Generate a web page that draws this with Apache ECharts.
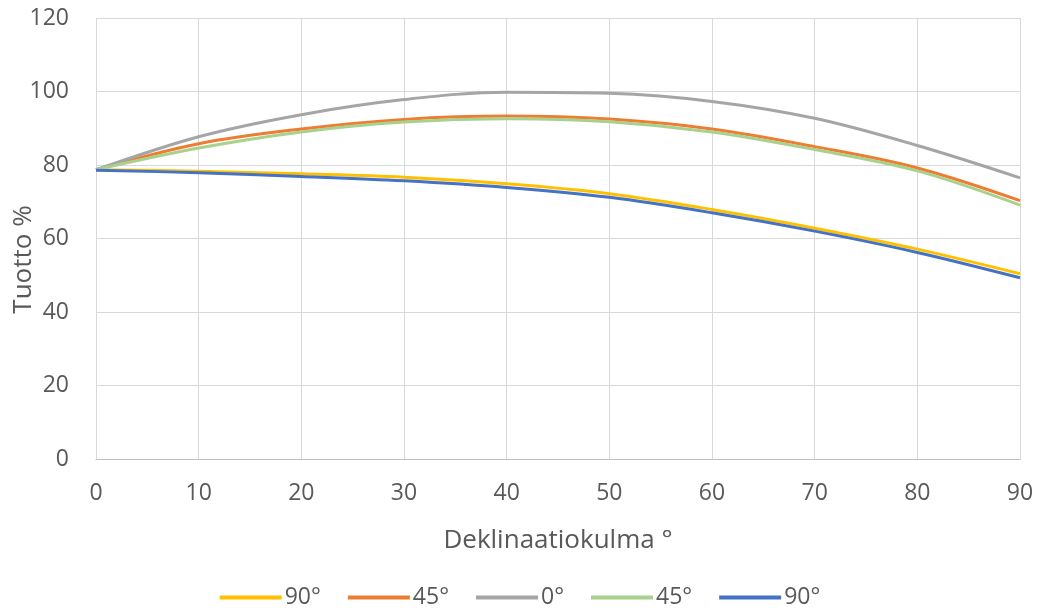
<!DOCTYPE html>
<html>
<head>
<meta charset="utf-8">
<script src="https://cdn.jsdelivr.net/npm/echarts@6/dist/echarts.min.js"></script>
<style>html,body{margin:0;padding:0;background:#fff}#c{width:1040px;height:616px}</style>
</head>
<body>
<div id="c"></div>
<script>
const xValues = [0, 10, 20, 30, 40, 50, 60, 70, 80, 90];
const seriesNames = ['90°', '45°', '0°', '45° ', '90° '];
const yellow90 = [78.7, 78.3, 77.6, 76.7, 74.9, 72.2, 67.9, 62.8, 57.1, 50.4];
const orange45 = [78.7, 85.8, 89.8, 92.4, 93.3, 92.5, 89.8, 85.0, 79.2, 70.3];
const gray0 = [78.7, 87.7, 93.7, 97.8, 99.8, 99.5, 97.3, 92.7, 85.3, 76.5];
const green45 = [78.7, 84.6, 89.0, 91.7, 92.6, 91.8, 89.0, 84.2, 78.4, 69.1];
const blue90 = [78.6, 77.9, 76.9, 75.7, 73.9, 71.2, 67.0, 62.0, 56.2, 49.3];
const colors = ['#FFC000', '#ED7D31', '#A5A5A5', '#A9D18E', '#4472C4'];
const allData = [yellow90, orange45, gray0, green45, blue90];

const font = 'Open Sans';
const chart = echarts.init(document.getElementById('c'), null, {renderer: 'canvas'});
chart.setOption({
  animation: false,
  color: colors,
  textStyle: {fontFamily: font},
  grid: {left: 96, right: 20, top: 18, bottom: 157, containLabel: false, outerBoundsMode: 'none'},
  legend: {
    bottom: 2,
    left: 'center',
    icon: 'rect',
    itemWidth: 62,
    itemHeight: 4,
    itemGap: 27,
    data: seriesNames,
    formatter: n => n.trim(),
    textStyle: {color: '#595959', fontSize: 23, fontFamily: font, padding: [0, 0, 0, -2]}
  },
  xAxis: {
    type: 'value', min: 0, max: 90, interval: 10,
    name: 'Deklinaatiokulma °', nameLocation: 'middle', nameGap: 69, nameMoveOverlap: false,
    nameTextStyle: {color: '#595959', fontSize: 26, fontFamily: font},
    axisLine: {show: true, lineStyle: {color: '#BFBFBF', width: 1}},
    axisTick: {show: false},
    axisLabel: {color: '#595959', fontSize: 23, margin: 23, fontFamily: font},
    splitLine: {show: true, lineStyle: {color: '#D9D9D9', width: 1}}
  },
  yAxis: {
    type: 'value', min: 0, max: 120, interval: 20,
    name: 'Tuotto %', nameLocation: 'middle', nameGap: 59, nameMoveOverlap: false,
    nameTextStyle: {color: '#595959', fontSize: 26, fontFamily: font, padding: [0, 42, 0, 0]},
    axisLine: {show: false},
    axisTick: {show: false},
    axisLabel: {color: '#595959', fontSize: 23, margin: 27, fontFamily: font},
    splitLine: {show: true, lineStyle: {color: '#D9D9D9', width: 1}}
  },
  series: seriesNames.map((n, i) => ({
    name: n,
    type: 'line',
    smooth: 0.35,
    symbol: 'none',
    lineStyle: {width: 3, color: colors[i]},
    itemStyle: {color: colors[i]},
    data: xValues.map((x, j) => [x, allData[i][j]])
  }))
});
</script>
</body>
</html>
